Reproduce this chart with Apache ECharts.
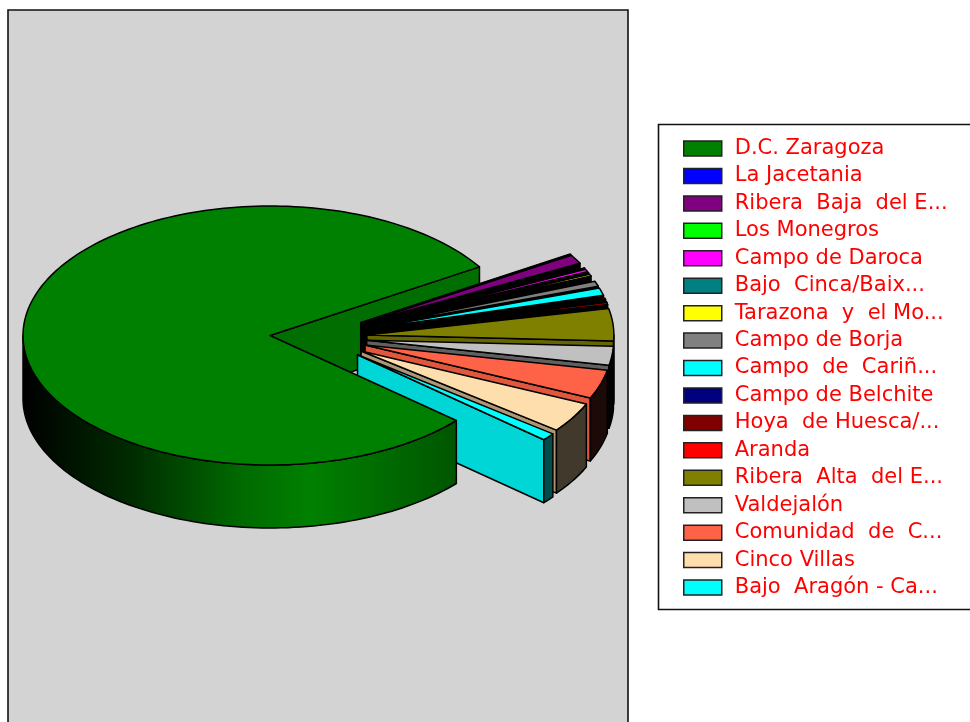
<!DOCTYPE html>
<html><head><meta charset="utf-8">
<style>html,body{margin:0;padding:0;background:#fff}#c{width:970px;height:722px}</style>
<script src="https://cdn.jsdelivr.net/npm/echarts@6/dist/echarts.min.js"></script>
</head><body><div id="c"></div>
<script>
const categories = ['D.C. Zaragoza','La Jacetania','Ribera  Baja  del E...','Los Monegros','Campo de Daroca','Bajo  Cinca/Baix...','Tarazona  y  el Mo...','Campo de Borja','Campo  de  Cariñ...','Campo de Belchite','Hoya  de Huesca/...','Aranda','Ribera  Alta  del E...','Valdejalón','Comunidad  de  C...','Cinco Villas','Bajo  Aragón - Ca...'];
// share of the pie, percent
const values = [79.72,0.06,1.11,0.06,0.31,0.06,0.22,0.64,0.94,0.19,0.08,0.25,4.03,2.36,3.61,3.75,0.92];
const colors = ['#008000','#0000ff','#800080','#00ff00','#ff00ff','#008080','#ffff00','#808080','#00ffff','#000080','#800000','#ff0000','#808000','#c0c0c0','#ff6347','#ffdead','#00ffff'];
// styling of the cut faces and of the gaps (degrees) between exploded slices
const wallShade = [0.82,0,0,0,0,0,0,0,0,0,0,0,0.8,0.5,0.88,0.68,0.84];
const gapAfter = [0,0,1.5,0.3,0.3,0.4,1.8,0.2,0.7,0.7,0,0.2,0,0,0,0,0];

const CX=270, CY=335.5, RX=247, RY=129.5, DEPTH=63, START=-32;
const rad = d=>d*Math.PI/180;
const ranges=[]; (function(){
  let a=START;
  for(let i=1;i<values.length;i++){ const s=a, e=a+values[i]*3.6; ranges[i]=[s,e]; a=e+gapAfter[i]; }
  ranges[0]=[a,START+360];
})();
function shade(hex,k){const n=parseInt(hex.slice(1),16);return 'rgb('+[(n>>16)&255,(n>>8)&255,n&255].map(v=>Math.round(v*k)).join(',')+')';}
function pt(c,t,dz){return [c[0]+RX*Math.cos(rad(t)),c[1]+RY*Math.sin(rad(t))+(dz||0)];}
function arc(c,a,b,dz){const n=Math.max(2,Math.ceil(Math.abs(b-a)/1.5));const p=[];for(let i=0;i<=n;i++)p.push(pt(c,a+(b-a)*i/n,dz));return p;}
const LINE={stroke:'#000',lineWidth:1.5,lineJoin:'round'};
function poly(points,fill,z2){return {type:'polygon',z2:z2,shape:{points:points},style:Object.assign({fill:fill},LINE),silent:true};}

function renderSlice(params,api){
  const i=params.seriesIndex; api.value(0);
  const col=colors[i], r=ranges[i], kids=[];
  if(i===0){
    const c=[CX,CY];
    kids.push(poly([c,pt(c,START),pt(c,START,DEPTH),[CX,CY+DEPTH]],'#006e00',1));
    const grad={type:'linear',global:true,x:CX-RX,y:0,x2:458,y2:0,colorStops:[
      {offset:0,color:'#000000'},{offset:0.25,color:'#002c00'},{offset:0.5,color:'#006a00'},{offset:0.66,color:'#008000'},{offset:1,color:'#005500'}]};
    const a=r[0], b=180;
    kids.push(poly(arc(c,a,b).concat(arc(c,b,a,DEPTH)),grad,100));
    kids.push(poly([c].concat(arc(c,r[0],r[1])),col,101));
  } else {
    const m=(r[0]+r[1])/2;
    const c=[CX+97*Math.cos(rad(0.65*m)),CY+1.5+0.45*m];
    const z=2+i*3;
    const e=pt(c,r[1]);
    kids.push(poly([c,e,[e[0],e[1]+DEPTH],[c[0],c[1]+DEPTH]],shade(col,wallShade[i]),z));
    if(r[1]>0){
      const a=Math.max(r[0],0), b=r[1], k=b*b*0.00018;
      kids.push(poly(arc(c,a,b).concat(arc(c,b,a,DEPTH)),shade(col,k),z+1));
    }
    kids.push(poly([c].concat(arc(c,r[0],r[1])),col,z+2));
  }
  return {type:'group',children:kids};
}

const chart=echarts.init(document.getElementById('c'),null,{renderer:'canvas'});
chart.setOption({
  animation:false,
  backgroundColor:'#fff',
  graphic:[
    {type:'rect',z:0,silent:true,shape:{x:8,y:10,width:620,height:800},style:{fill:'#d3d3d3',stroke:'#111',lineWidth:1.6}},
    {type:'rect',z:0,silent:true,shape:{x:658.5,y:124.5,width:400,height:485},style:{fill:'#fff',stroke:'#111',lineWidth:1.6}}
  ],
  legend:{
    orient:'vertical',left:683,top:138,padding:0,icon:'rect',
    itemWidth:38,itemHeight:15,itemGap:6.44,selectedMode:false,
    itemStyle:{borderColor:'#222',borderWidth:1.5},
    textStyle:{color:'#ff0000',fontFamily:'DejaVu Sans',fontSize:21,padding:[0,0,0,8]},
    data:categories
  },
  series:categories.map((n,i)=>({
    type:'custom',name:n,coordinateSystem:'none',renderItem:renderSlice,
    itemStyle:{color:colors[i]},data:[[values[i]]]
  }))
});
</script></body></html>
